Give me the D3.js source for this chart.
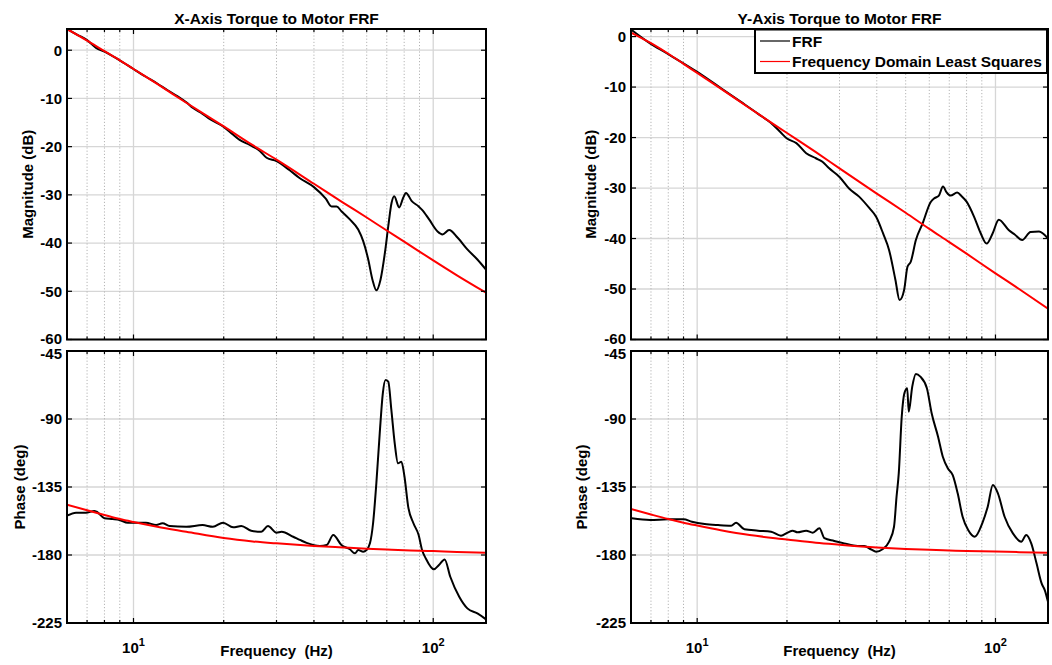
<!DOCTYPE html>
<html><head><meta charset="utf-8">
<script src="https://cdn.jsdelivr.net/npm/d3@7"></script>
<style>body{margin:0;background:#fff}svg{display:block}text{font-family:"Liberation Sans",Arial,sans-serif;font-weight:bold;fill:#000}</style>
</head><body><svg id="c" width="1052" height="665"></svg>
<script>
// ---------------- DATA ----------------
const titles = ["X-Axis Torque to Motor FRF", "Y-Axis Torque to Motor FRF"];
const legendLabels = ["FRF", "Frequency Domain Least Squares"];
const magTicks = [0, -10, -20, -30, -40, -50, -60];
const phaseTicks = [-45, -90, -135, -180, -225];
const decadeTicks = [10, 100];
const minorTicks = [7, 8, 9, 20, 30, 40, 50, 60, 70, 80, 90];
const freqDomain = [6, 150];
const magDomainX = [-60, 4.4];
const magDomainY = [-60, 1.5];
const phaseDomain = [-225, -45];

// Fitted model (red)
const fitFreq = [6, 7, 8, 9, 10, 12, 15, 20, 25, 30, 40, 50, 60, 70, 80, 100, 120, 150];
const xFitMag = [4.4, 2.0, -0.2, -2.1, -3.9, -7.0, -10.9, -15.8, -19.7, -22.7, -27.7, -31.6, -34.7, -37.4, -39.7, -43.6, -46.7, -50.3];
const xFitPhase = [-146.7, -150.4, -153.5, -156.2, -158.2, -161.3, -164.6, -168.8, -171.0, -172.3, -174.0, -175.0, -175.8, -176.4, -176.9, -177.4, -178.0, -178.5];
const yFitMag = [0.8, -1.3, -3.4, -5.4, -7.2, -10.3, -14.2, -19.1, -22.9, -26.1, -31.1, -34.9, -38.1, -40.7, -43.0, -46.9, -50.0, -53.9];
const yFitPhase = [-149.6, -153.2, -156.2, -158.6, -160.5, -163.6, -166.8, -169.7, -171.9, -173.2, -175.0, -176.0, -176.6, -177.0, -177.3, -177.7, -178.1, -178.5];

// Measured FRF (black), X axis
const xMagFreq = [6.0, 6.5, 7.0, 7.5, 8.0, 9.0, 10, 11, 12, 13, 14, 15, 15.8, 17, 18, 20, 21.3, 22.6, 24.5, 26.4, 27.8, 30.0, 33.2, 35.8, 40, 43.8, 45.8, 47.6, 49.4, 52.7, 56.2, 58.4, 60.7, 62.7, 64.6, 66.7, 69.0, 70.8, 72.6, 74.1, 77.0, 79.4, 81.1, 84.8, 89.4, 91.8, 96.9, 103.4, 107.4, 113.0, 120.7, 130, 140.4, 150];
const xMagFRF = [4.4, 3.2, 2.1, 0.5, -0.3, -2.1, -3.9, -5.5, -6.9, -8.3, -9.5, -10.8, -12.0, -13.2, -14.3, -15.9, -17.3, -18.6, -19.7, -20.9, -22.3, -23.0, -24.9, -26.5, -28.4, -30.8, -32.4, -32.4, -33.4, -35.1, -37.2, -39.6, -43.4, -47.6, -49.8, -47.6, -42.0, -36.5, -31.7, -30.3, -32.6, -30.6, -29.6, -31.3, -32.4, -33.1, -35.1, -37.6, -38.2, -37.3, -38.9, -41.3, -43.4, -45.5];
const xPhaseFreq = [6.0, 6.43, 6.94, 7.4, 7.54, 8.0, 8.53, 8.98, 9.57, 11.0, 11.9, 12.5, 13.2, 15.0, 17.0, 18.4, 19.9, 21.5, 22.9, 24.7, 26.7, 28.1, 30.0, 31.2, 34.1, 35.9, 37.8, 41.9, 44.1, 46.4, 49.4, 52.7, 54.8, 56.2, 58.4, 59.9, 61.5, 63.0, 64.6, 66.3, 67.9, 69.3, 70.8, 72.5, 74.4, 76.3, 78.3, 80.2, 82.5, 85.9, 89.4, 91.8, 94.4, 100.5, 104.5, 109.2, 114.0, 122.1, 130.0, 140.4, 150];
const xPhaseFRF = [-154.0, -152.0, -152.0, -150.9, -151.4, -155.7, -156.2, -156.8, -158.6, -158.6, -160.2, -159.0, -160.8, -161.3, -160.2, -161.3, -158.6, -161.7, -160.8, -163.9, -164.6, -160.8, -165.2, -164.6, -167.9, -170.0, -172.0, -174.0, -173.4, -166.8, -173.4, -176.2, -178.9, -176.7, -177.8, -176.7, -172.3, -159.0, -132.6, -99.5, -73.0, -64.2, -65.3, -84.0, -106.1, -119.3, -118.3, -128.2, -148.0, -159.0, -166.8, -176.7, -182.2, -189.5, -186.6, -182.9, -194.4, -207.6, -215.3, -218.6, -222.6];

// Measured FRF (black), Y axis
const yMagFreq = [6.0, 6.95, 7.9, 10, 12, 13.9, 16, 17.9, 19.0, 20.0, 21.5, 23.2, 25.0, 26.3, 27.7, 30.0, 32.3, 34.9, 37.8, 39.8, 42, 44.0, 46.2, 47.7, 49.4, 50.7, 52.0, 54.1, 57.0, 60.6, 62.5, 64.6, 66.7, 68.5, 70.7, 74.4, 77, 80.0, 84.8, 89, 93.4, 97.8, 102.6, 110.7, 116, 122.9, 131.1, 140.0, 150];
const yMagFRF = [1.4, -1.35, -3.3, -7.0, -10.2, -12.8, -15.3, -17.4, -18.9, -20.2, -21.1, -23.1, -24.1, -24.8, -26.1, -27.8, -30.1, -31.7, -34.0, -35.7, -39.0, -42.3, -48.2, -52.2, -50.2, -45.6, -44.6, -40.3, -37.0, -32.8, -32.0, -31.5, -29.7, -30.8, -31.5, -30.9, -31.6, -32.7, -35.7, -38.8, -41.0, -39.0, -36.3, -38.3, -39.2, -40.3, -38.7, -38.6, -40.0];
const yPhaseFreq = [6.04, 6.95, 8.0, 9.0, 9.6, 10.6, 11.75, 13.0, 13.5, 14.4, 16.0, 17.7, 19.1, 20.1, 20.9, 21.7, 23.2, 24.4, 25.7, 26.7, 28.8, 31.1, 34.5, 36.3, 38.2, 39.8, 41.8, 44.0, 45.7, 46.6, 47.4, 48.5, 49.5, 50.6, 51.2, 52.6, 54.1, 56.0, 58.9, 61.1, 64.2, 66.6, 69.2, 71.9, 74.7, 77.6, 81, 85.2, 90.3, 94.2, 98.0, 101.9, 107.3, 114.4, 122.0, 126.8, 131.8, 137.3, 142.8, 146.3, 150];
const yPhaseFRF = [-155.7, -156.8, -156.4, -156.4, -158.0, -159.5, -160.2, -160.6, -158.6, -163.0, -163.9, -164.6, -167.2, -165.2, -163.9, -165.0, -163.9, -165.2, -162.3, -168.9, -170.7, -172.3, -174.0, -174.0, -176.2, -177.8, -176.2, -171.2, -161.3, -141.4, -126.0, -88.5, -73.0, -69.7, -85.2, -68.6, -60.2, -62.0, -69.7, -86.2, -101.7, -115.0, -122.6, -127.1, -139.2, -154.7, -163.5, -167.9, -159.0, -148.0, -133.7, -139.2, -154.7, -165.7, -171.2, -166.8, -172.3, -185.5, -198.8, -203.2, -211.0];

// ---------------- DRAW ----------------
const svg = d3.select("#c");
const zip = (a, b) => a.map((v, i) => [v, b[i]]);

const cols = [
  {x0: 67, x1: 486, magLabelX: 28, phLabelX: 20},
  {x0: 631, x1: 1048, magLabelX: 591, phLabelX: 582}
];
const magRows = {y0: 29, y1: 339.5, edgeShift: {"-60": -1}};
const phRows = {y0: 351, y1: 623, edgeShift: {"-45": 2.5}};

const sets = [
  {title: titles[0], magDom: magDomainX, mag: zip(xMagFreq, xMagFRF), ph: zip(xPhaseFreq, xPhaseFRF),
   fitMag: zip(fitFreq, xFitMag), fitPh: zip(fitFreq, xFitPhase)},
  {title: titles[1], magDom: magDomainY, mag: zip(yMagFreq, yMagFRF), ph: zip(yPhaseFreq, yPhaseFRF),
   fitMag: zip(fitFreq, yFitMag), fitPh: zip(fitFreq, yFitPhase)}
];

let clipId = 0;
function panel(col, row, yDom, yTicks, black, red, ylabel, labelX, showXLabels) {
  const x = d3.scaleLog().domain(freqDomain).range([col.x0, col.x1]);
  const y = d3.scaleLinear().domain(yDom).range([row.y1, row.y0]);
  const g = svg.append("g");
  g.append("rect").attr("x", col.x0).attr("y", row.y0).attr("width", col.x1 - col.x0).attr("height", row.y1 - row.y0).attr("fill", "#fff");
  // grid
  g.selectAll(".hg").data(yTicks).join("line")
    .attr("x1", col.x0).attr("x2", col.x1).attr("y1", d => y(d)).attr("y2", d => y(d))
    .attr("stroke", "#d6d6d6").attr("stroke-width", 1.3);
  g.selectAll(".mg").data(minorTicks).join("line")
    .attr("x1", d => x(d)).attr("x2", d => x(d)).attr("y1", row.y0).attr("y2", row.y1)
    .attr("stroke", "#b4b4b4").attr("stroke-width", 1).attr("stroke-dasharray", "1.2,2");
  g.selectAll(".vg").data(decadeTicks).join("line")
    .attr("x1", d => x(d)).attr("x2", d => x(d)).attr("y1", row.y0).attr("y2", row.y1)
    .attr("stroke", "#d6d6d6").attr("stroke-width", 1.3);
  // clip
  const id = "clip" + (clipId++);
  svg.append("clipPath").attr("id", id).append("rect")
    .attr("x", col.x0).attr("y", row.y0).attr("width", col.x1 - col.x0).attr("height", row.y1 - row.y0);
  const line = d3.line().x(d => x(d[0])).y(d => y(d[1])).curve(d3.curveMonotoneX);
  const lg = g.append("g").attr("clip-path", `url(#${id})`);
  lg.append("path").attr("d", line(black)).attr("fill", "none").attr("stroke", "#000").attr("stroke-width", 2).attr("stroke-linejoin", "round");
  lg.append("path").attr("d", line(red)).attr("fill", "none").attr("stroke", "#ff0000").attr("stroke-width", 2);
  // ticks inside on all sides
  const tk = g.append("g").attr("stroke", "#000").attr("stroke-width", 1.2);
  yTicks.forEach(t => {
    tk.append("line").attr("x1", col.x0).attr("x2", col.x0 + 5).attr("y1", y(t)).attr("y2", y(t));
    tk.append("line").attr("x1", col.x1).attr("x2", col.x1 - 5).attr("y1", y(t)).attr("y2", y(t));
  });
  decadeTicks.forEach(t => {
    tk.append("line").attr("x1", x(t)).attr("x2", x(t)).attr("y1", row.y1).attr("y2", row.y1 - 5);
    tk.append("line").attr("x1", x(t)).attr("x2", x(t)).attr("y1", row.y0).attr("y2", row.y0 + 5);
  });
  minorTicks.forEach(t => {
    tk.append("line").attr("x1", x(t)).attr("x2", x(t)).attr("y1", row.y1).attr("y2", row.y1 - 3);
    tk.append("line").attr("x1", x(t)).attr("x2", x(t)).attr("y1", row.y0).attr("y2", row.y0 + 3);
  });
  // frame
  g.append("rect").attr("x", col.x0).attr("y", row.y0).attr("width", col.x1 - col.x0).attr("height", row.y1 - row.y0)
    .attr("fill", "none").attr("stroke", "#000").attr("stroke-width", 2);
  // y tick labels
  g.selectAll(".yl").data(yTicks).join("text")
    .attr("x", col.x0 - 5).attr("y", d => y(d) + 5.3 + (row.edgeShift[String(d)] || 0))
    .attr("text-anchor", "end").attr("font-size", 15).text(d => d);
  // y label
  const cy = (row.y0 + row.y1) / 2;
  g.append("text").attr("transform", `translate(${labelX + 5},${cy}) rotate(-90)`)
    .attr("text-anchor", "middle").attr("font-size", 15).text(ylabel);
  if (showXLabels) {
    decadeTicks.forEach(t => {
      const tx = g.append("text").attr("x", x(t)).attr("y", 652.5).attr("text-anchor", "middle").attr("font-size", 15);
      tx.append("tspan").text("10");
      tx.append("tspan").attr("dy", -7).attr("font-size", 11).text(String(Math.round(Math.log10(t))));
    });
    g.append("text").attr("x", (col.x0 + col.x1) / 2).attr("y", 655.5).attr("text-anchor", "middle")
      .attr("font-size", 15).attr("xml:space", "preserve").style("white-space", "pre").text("Frequency  (Hz)");
  }
  return {x, y};
}

sets.forEach((s, i) => {
  const col = cols[i];
  panel(col, magRows, s.magDom, magTicks, s.mag, s.fitMag, "Magnitude (dB)", col.magLabelX, false);
  panel(col, phRows, phaseDomain, phaseTicks, s.ph, s.fitPh, "Phase (deg)", col.phLabelX, true);
  svg.append("text").attr("x", (col.x0 + col.x1) / 2).attr("y", 23.5).attr("text-anchor", "middle")
    .attr("font-size", 15.5).text(s.title);
});

// legend (right magnitude panel)
const lg = svg.append("g");
lg.append("rect").attr("x", 755).attr("y", 29.5).attr("width", 292).attr("height", 43.5)
  .attr("fill", "#fff").attr("stroke", "#000").attr("stroke-width", 2);
const legendColors = ["#000", "#ff0000"];
legendLabels.forEach((lab, i) => {
  const yy = 41 + i * 20.5;
  lg.append("line").attr("x1", 760).attr("x2", 790).attr("y1", yy).attr("y2", yy)
    .attr("stroke", legendColors[i]).attr("stroke-width", 1.2);
  lg.append("text").attr("x", 792).attr("y", yy + 5.5).attr("font-size", 15.5).text(lab);
});
</script></body></html>
